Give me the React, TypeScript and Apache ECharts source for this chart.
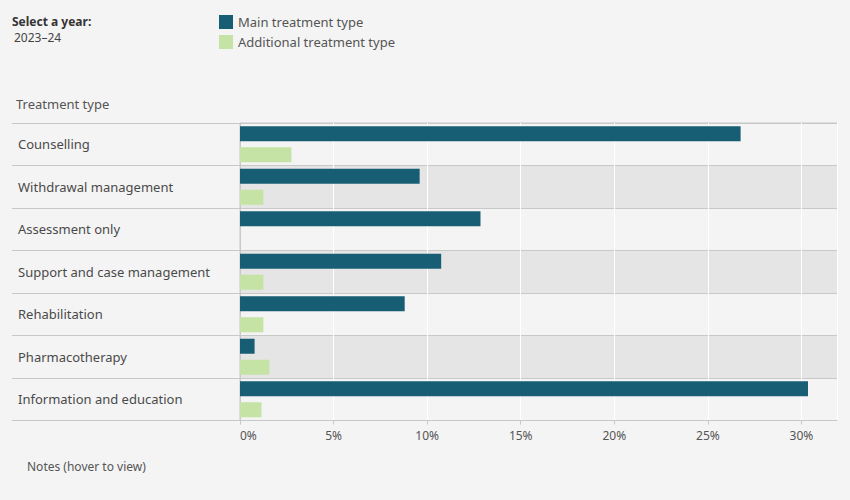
import React, { useEffect, useRef } from "react";
import * as echarts from "echarts";

const categories = [
  "Counselling",
  "Withdrawal management",
  "Assessment only",
  "Support and case management",
  "Rehabilitation",
  "Pharmacotherapy",
  "Information and education",
];
const mainValues = [26.75, 9.6, 12.85, 10.75, 8.8, 0.78, 30.35];
const additionalValues = [2.75, 1.25, 0, 1.25, 1.25, 1.57, 1.15];
const seriesNames = ["Main treatment type", "Additional treatment type"];
const xTicks = [0, 5, 10, 15, 20, 25, 30];

const FONT = "'Noto Sans', sans-serif";

export default function App() {
  const ref = useRef<HTMLDivElement>(null);
  useEffect(() => {
    document.body.style.margin = "0";
    document.body.style.background = "#f4f4f4";
    const chart = echarts.init(ref.current!, null, { renderer: "svg" });
    chart.setOption({
      animation: false,
      backgroundColor: "#f4f4f4",
      textStyle: { fontFamily: FONT },
      legend: {
        left: 219,
        top: 15,
        padding: 0,
        orient: "vertical",
        itemWidth: 14,
        itemHeight: 14,
        itemGap: 6,
        icon: "rect",
        data: seriesNames,
        textStyle: { fontSize: 13, color: "#555", fontFamily: FONT },
      },
      graphic: [
        {
          type: "text",
          left: 12,
          top: 15,
          style: { text: "Select a year:", fontSize: 12, fontWeight: "bold", fill: "#333", fontFamily: FONT },
        },
        {
          type: "text",
          left: 14,
          top: 31,
          style: { text: "2023–24", fontSize: 12, fill: "#444", fontFamily: FONT },
        },
        {
          type: "text",
          left: 16,
          top: 97,
          style: { text: "Treatment type", fontSize: 13, fill: "#555", fontFamily: FONT },
        },
        {
          type: "text",
          left: 27,
          top: 460,
          style: { text: "Notes (hover to view)", fontSize: 12, fill: "#555", fontFamily: FONT },
        },
      ],
      grid: [
        {
          left: 240,
          right: 13,
          top: 123,
          height: 297.5,
          show: true,
          borderColor: "#c8c8c8",
          borderWidth: 1,
          backgroundColor: "transparent",
        },
        {
          left: 12,
          width: 228,
          top: 123,
          height: 297.5,
          show: false,
        },
      ],
      xAxis: [
        {
          type: "value",
          gridIndex: 0,
          min: 0,
          max: 31.9,
          interval: 5,
          axisLine: { show: true, lineStyle: { color: "#c8c8c8" } },
          axisTick: { show: true, length: 4, lineStyle: { color: "#c8c8c8" } },
          splitLine: { show: true, lineStyle: { color: "#ffffff", width: 1 } },
          axisLabel: {
            color: "#555",
            fontSize: 12,
            margin: 9,
            fontFamily: FONT,
            showMaxLabel: false,
            alignMinLabel: "left",
            formatter: (v: number) => (xTicks.includes(v) ? v + "%" : ""),
          },
        },
        {
          type: "value",
          gridIndex: 1,
          min: 0,
          max: 1,
          show: false,
        },
      ],
      yAxis: [
        {
          type: "category",
          gridIndex: 0,
          data: categories,
          inverse: true,
          axisLine: { show: true, lineStyle: { color: "#c8c8c8" } },
          axisTick: { show: false },
          splitLine: { show: true, lineStyle: { color: "#c8c8c8" } },
          splitArea: { show: true, areaStyle: { color: ["#f4f4f4", "#e5e5e5"] } },
          axisLabel: {
            align: "left",
            margin: 222,
            color: "#4a4a4a",
            fontSize: 13,
            fontFamily: FONT,
          },
        },
        {
          type: "category",
          gridIndex: 1,
          data: categories,
          inverse: true,
          axisLine: { show: false },
          axisTick: { show: false },
          axisLabel: { show: false },
          splitLine: { show: true, lineStyle: { color: "#c8c8c8" } },
        },
      ],
      series: [
        {
          name: seriesNames[0],
          type: "bar",
          xAxisIndex: 0,
          yAxisIndex: 0,
          data: mainValues,
          barWidth: 15,
          barGap: "40%",
          itemStyle: { color: "#175e74" },
        },
        {
          name: seriesNames[1],
          type: "bar",
          xAxisIndex: 0,
          yAxisIndex: 0,
          data: additionalValues,
          barWidth: 15,
          barGap: "40%",
          itemStyle: { color: "#c5e3a5" },
        },
      ],
    });
    return () => chart.dispose();
  }, []);
  return (
    <div
      ref={ref}
      style={{ position: "fixed", left: 0, top: 0, width: 850, height: 500 }}
    />
  );
}
